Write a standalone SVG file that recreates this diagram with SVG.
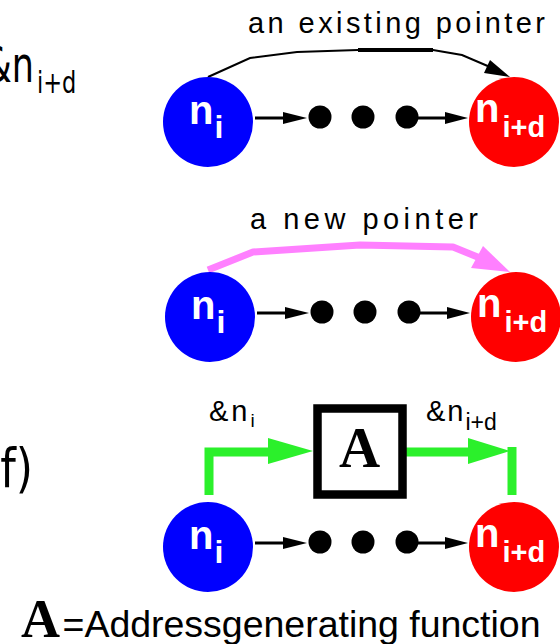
<svg xmlns="http://www.w3.org/2000/svg" width="560" height="644" viewBox="0 0 560 644">
<style>
.ni{fill:#0000ff}
.nd{fill:#ff0000}
.lbl{font-family:"Liberation Sans",Arial,sans-serif;font-weight:bold;fill:#ffffff}
.dot{fill:#000000}
.ln{stroke:#000000;stroke-width:3;fill:none}
.ah{fill:#000000}
.txt{font-family:"Liberation Sans",Arial,sans-serif;fill:#000000}
.side{font-family:"DejaVu Sans",sans-serif;fill:#000000}
.serif{font-family:"Liberation Serif","Times New Roman",serif;font-weight:bold;fill:#000000}
.gr{stroke:#2bf02b;stroke-width:9;fill:none}
.grh{fill:#2bf02b}
</style>
<rect width="560" height="644" fill="#ffffff"/>

<!-- side labels -->
<g id="label-left-top">
<text class="side" transform="translate(34,82) scale(0.7,1)" text-anchor="end" font-size="50">&amp;n</text>
<text class="side" transform="translate(37,93) scale(0.75,1)" font-size="30">i+d</text>
</g>
<g id="label-left-bottom">
<text class="side" transform="translate(33,487) scale(0.82,1)" text-anchor="end" font-size="54">f)</text>
</g>

<!-- titles -->
<text class="txt" x="248" y="33" font-size="29" textLength="297" lengthAdjust="spacing">an existing pointer</text>
<text class="txt" x="250" y="229" font-size="29" textLength="228" lengthAdjust="spacing">a new pointer</text>

<!-- connectors -->
<g id="connectors">
<line class="ln" x1="255" y1="118" x2="285" y2="118"/>
<polygon class="ah" points="283,112 283,124 307,118"/>
<line class="ln" x1="407" y1="118" x2="447" y2="118"/>
<polygon class="ah" points="445,112 445,124 468,118"/>
<path d="M208,77 L250,58 L297,52 L358,50 L433,50 L462,55 L490,67" stroke="#000" stroke-width="2" fill="none"/>
<path d="M358,50 H433" stroke="#000" stroke-width="4" fill="none"/>
<polygon class="ah" points="484,73 490,60 510,77"/>

<line class="ln" x1="257" y1="313" x2="287" y2="313"/>
<polygon class="ah" points="285,307 285,319 309,313"/>
<line class="ln" x1="409" y1="313" x2="449" y2="313"/>
<polygon class="ah" points="447,307 447,319 470,313"/>
<path d="M208,270 L253,252 L360,245 L453,247 L480,258" stroke="#ff80ff" stroke-width="7" fill="none" stroke-linejoin="round"/>
<polygon fill="#ff80ff" points="471,268 483,246 510,272"/>

<line class="ln" x1="255" y1="543" x2="285" y2="543"/>
<polygon class="ah" points="283,537 283,549 307,543"/>
<line class="ln" x1="407" y1="543" x2="447" y2="543"/>
<polygon class="ah" points="445,537 445,549 468,543"/>
<path class="gr" d="M209,495 V452 H272"/>
<polygon class="grh" points="268,438 268,464 313,451"/>
<path class="gr" d="M404,452 H472"/>
<polygon class="grh" points="468,438 468,464 510,451"/>
<path class="gr" d="M512,447 V495"/>
</g>

<!-- row 1 nodes -->
<g id="n_i-1">
<circle class="ni" cx="208" cy="122" r="45"/>
<text class="lbl" x="189" y="124" font-size="40">n<tspan font-size="32" dx="1" dy="14">i</tspan></text>
</g>
<g id="dot-1a"><circle class="dot" cx="320" cy="117" r="11.5"/></g>
<g id="dot-1b"><circle class="dot" cx="363" cy="117" r="11.5"/></g>
<g id="dot-1c"><circle class="dot" cx="407" cy="117" r="11.5"/></g>
<g id="n_id-1">
<circle class="nd" cx="514" cy="122" r="45"/>
<text class="lbl" x="475" y="122" font-size="40">n<tspan font-size="29" dx="3" dy="15">i+d</tspan></text>
</g>

<!-- row 2 nodes -->
<g id="n_i-2">
<circle class="ni" cx="210" cy="317" r="45"/>
<text class="lbl" x="191" y="319" font-size="40">n<tspan font-size="32" dx="1" dy="14">i</tspan></text>
</g>
<g id="dot-2a"><circle class="dot" cx="322" cy="312" r="11.5"/></g>
<g id="dot-2b"><circle class="dot" cx="365" cy="312" r="11.5"/></g>
<g id="dot-2c"><circle class="dot" cx="409" cy="312" r="11.5"/></g>
<g id="n_id-2">
<circle class="nd" cx="516" cy="317" r="45"/>
<text class="lbl" x="477" y="317" font-size="40">n<tspan font-size="29" dx="3" dy="15">i+d</tspan></text>
</g>

<!-- row 3 nodes -->
<g id="n_i-3">
<circle class="ni" cx="208" cy="547" r="45"/>
<text class="lbl" x="189" y="549" font-size="40">n<tspan font-size="32" dx="1" dy="14">i</tspan></text>
</g>
<g id="dot-3a"><circle class="dot" cx="320" cy="542" r="11.5"/></g>
<g id="dot-3b"><circle class="dot" cx="363" cy="542" r="11.5"/></g>
<g id="dot-3c"><circle class="dot" cx="407" cy="542" r="11.5"/></g>
<g id="n_id-3">
<circle class="nd" cx="514" cy="547" r="45"/>
<text class="lbl" x="475" y="547" font-size="40">n<tspan font-size="29" dx="3" dy="15">i+d</tspan></text>
</g>

<!-- address generating function box -->
<g id="box-A">
<rect x="317.5" y="408.5" width="85" height="86" fill="#ffffff" stroke="#000000" stroke-width="8.5"/>
<text class="serif" x="359.5" y="467" font-size="57" text-anchor="middle">A</text>
</g>
<g id="label-ni">
<text class="txt" x="209" y="421" font-size="29" letter-spacing="3">&amp;n<tspan font-size="19" letter-spacing="0" dx="0" dy="6">i</tspan></text>
</g>
<g id="label-nid">
<text class="txt" x="426" y="421" font-size="29" letter-spacing="2">&amp;n<tspan font-size="23" letter-spacing="0" dy="9">i+d</tspan></text>
</g>

<!-- legend -->
<g id="legend">
<text class="serif" x="21" y="637" font-size="54">A</text>
<text class="txt" x="62.5" y="637" font-size="37.5" textLength="478" lengthAdjust="spacing">=Addressgenerating function</text>
</g>
</svg>
